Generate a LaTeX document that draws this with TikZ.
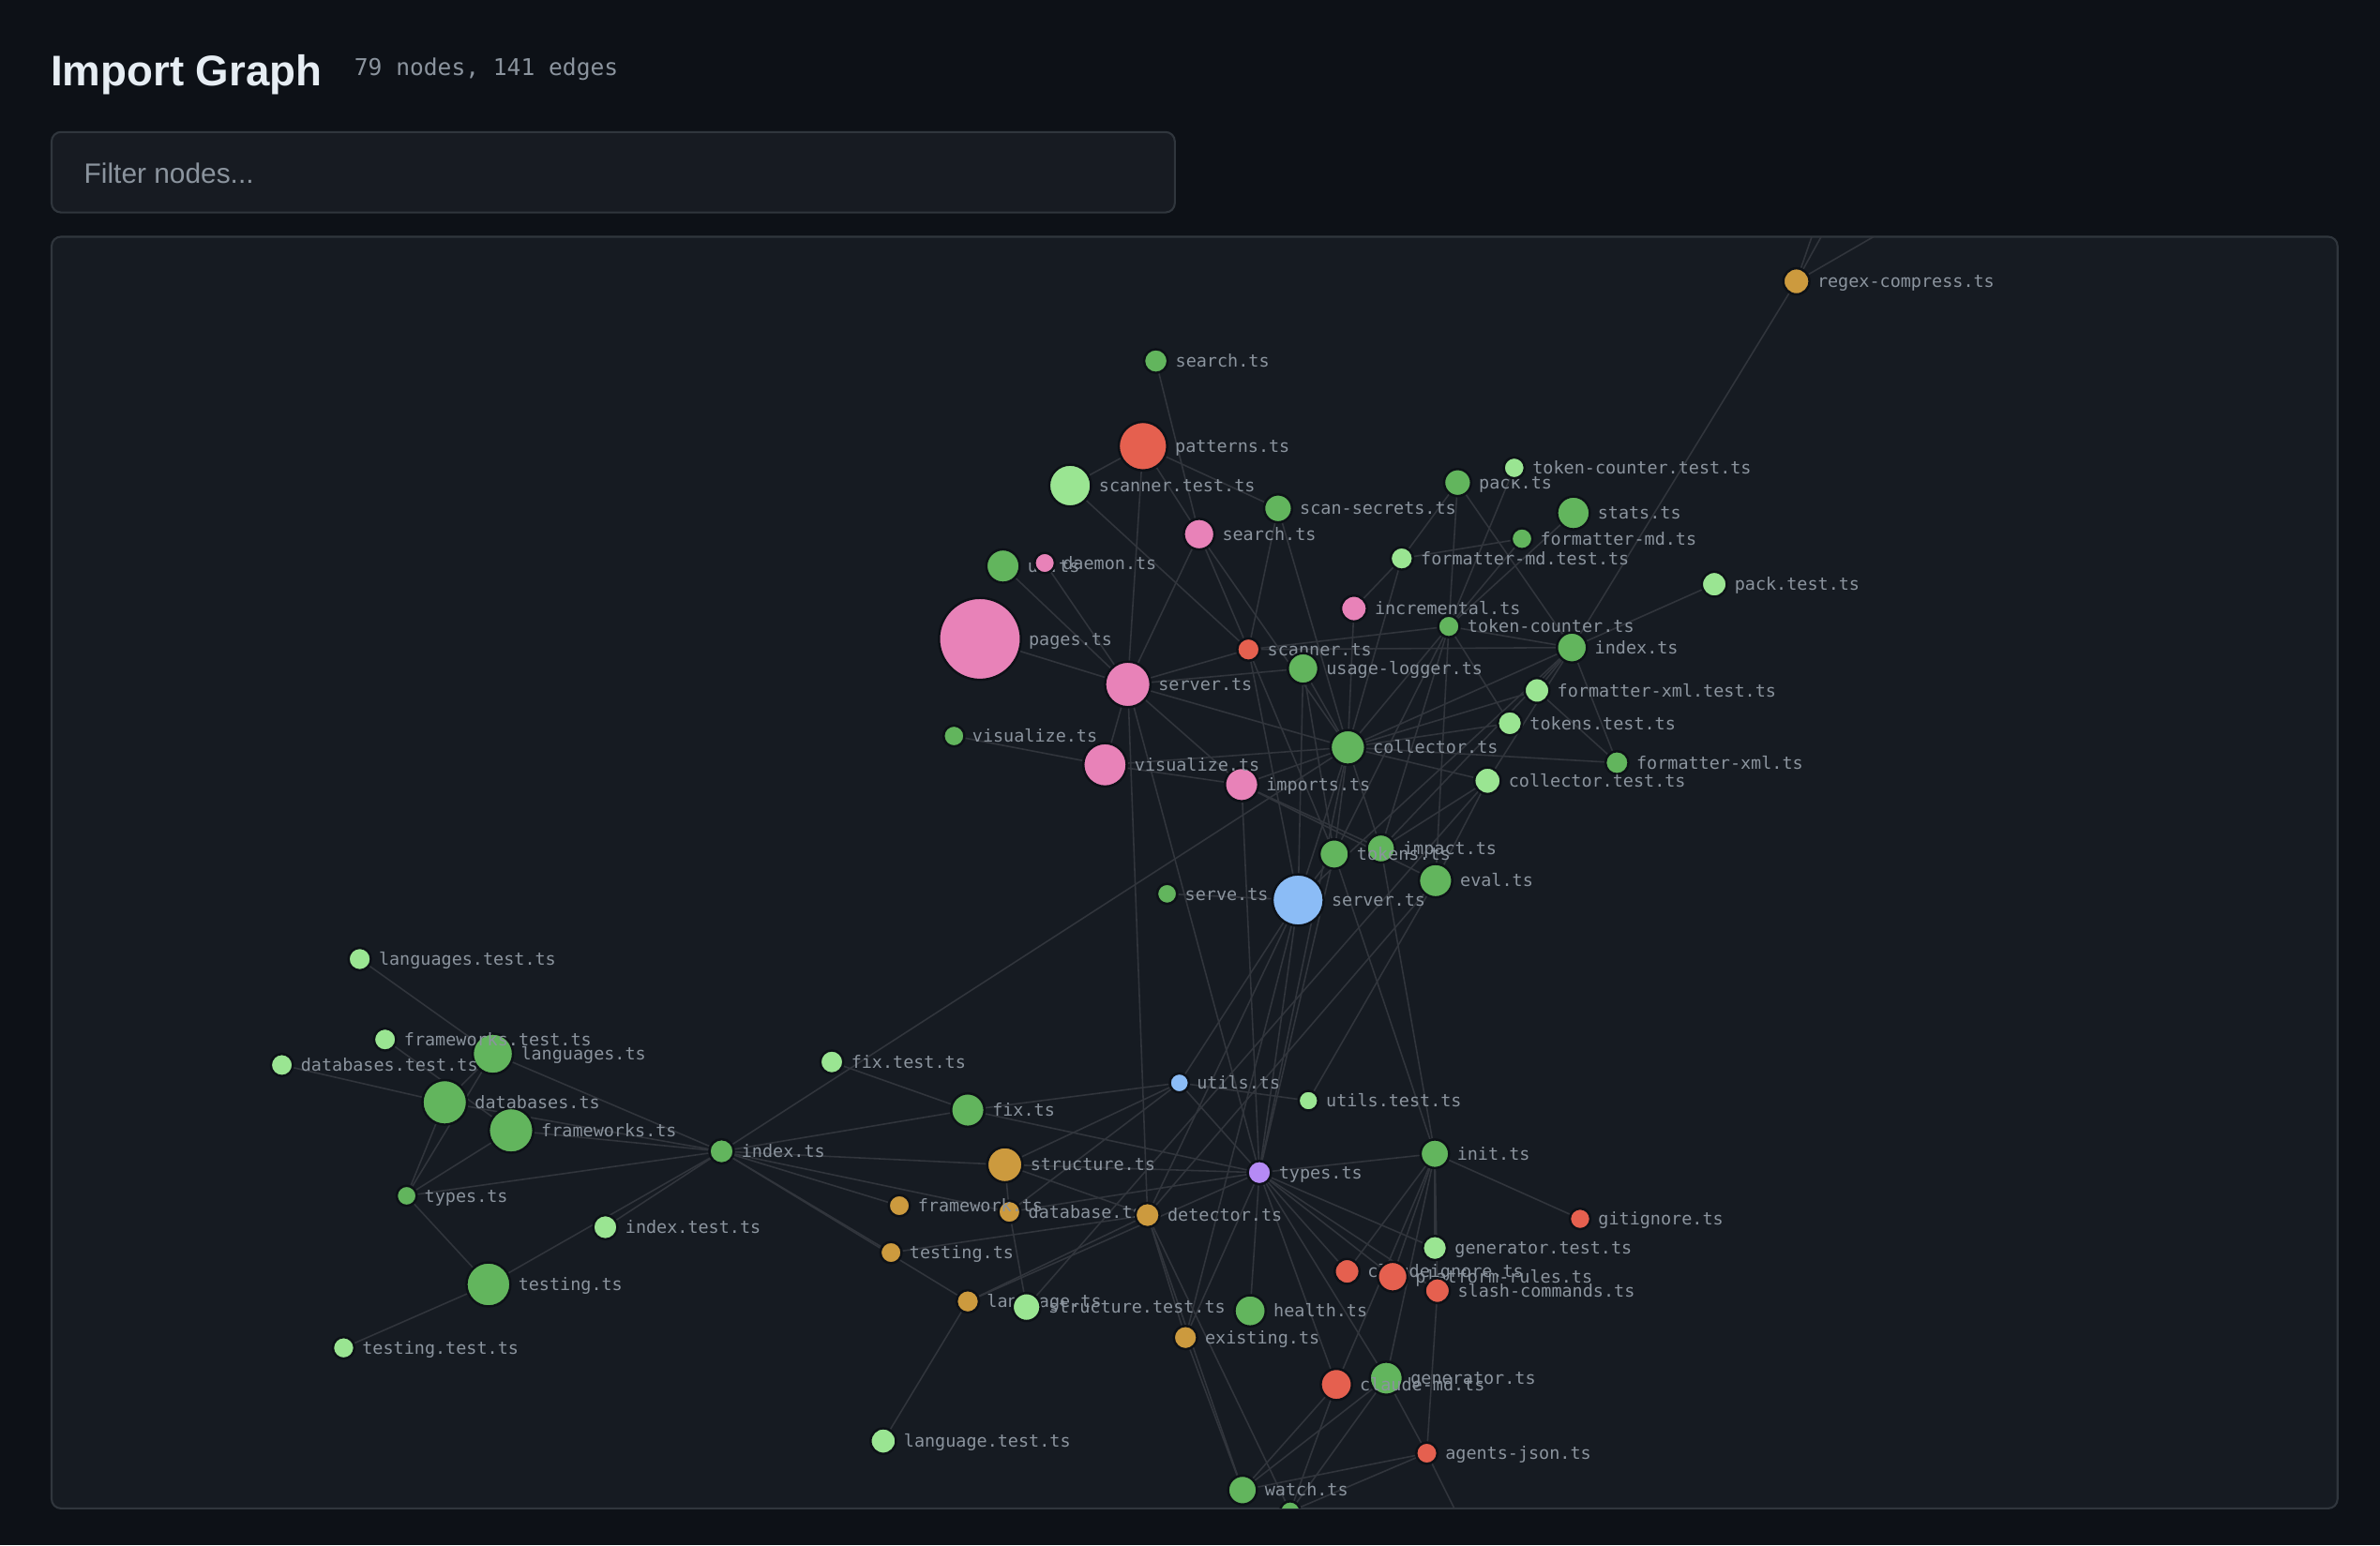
\documentclass[tikz,border=0pt]{standalone}
\usepackage{fontspec}
\setmainfont{Liberation Sans}
\newfontfamily\monofont{DejaVu Sans Mono}
\definecolor{pagebg}{HTML}{0D1117}
\definecolor{panelbg}{HTML}{161B22}
\definecolor{filterbg}{HTML}{171B22}
\definecolor{panelline}{HTML}{30363D}
\definecolor{edgecol}{HTML}{31353C}
\definecolor{labelcol}{HTML}{8B949E}
\definecolor{titlecol}{HTML}{E6EDF3}
\definecolor{cgreen}{HTML}{62B55D}
\definecolor{clight}{HTML}{9AE592}
\definecolor{cpink}{HTML}{E882B8}
\definecolor{cred}{HTML}{E5604F}
\definecolor{corange}{HTML}{CC9A3E}
\definecolor{cblue}{HTML}{8BBCF6}
\definecolor{cpurple}{HTML}{B58AF5}
\pgfdeclarelayer{bglayer}
\pgfdeclarelayer{edgelayer}
\pgfsetlayers{bglayer,edgelayer,main}
\begin{document}
\begin{tikzpicture}[x=0.016186cm,y=-0.016186cm,
  main node/.style={circle,draw=pagebg,line width=0.7pt,inner sep=0pt,minimum size=#1*0.032372cm},
  green node/.style={main node=#1,fill=cgreen},
  light node/.style={main node=#1,fill=clight},
  pink node/.style={main node=#1,fill=cpink},
  red node/.style={main node=#1,fill=cred},
  orange node/.style={main node=#1,fill=corange},
  blue node/.style={main node=#1,fill=cblue},
  purple node/.style={main node=#1,fill=cpurple},
  label distance=0.065cm,
  every label/.style={font=\monofont\fontsize{5.25}{6.3}\selectfont,text=labelcol,inner sep=0pt,text height=1.6ex,text depth=0.4ex,yshift=0.045cm},
  link/.style={every edge/.style={draw=edgecol,line width=0.45pt}}]

  \useasboundingbox (0,0) rectangle (1568,1018.2);
  \begin{pgfonlayer}{bglayer}
    \fill[pagebg] (0,0) rectangle (1568,1018.2);
    \draw[panelline,fill=panelbg,line width=0.6pt,rounded corners=0.1cm] (34,156) rectangle (1540,994);
  \end{pgfonlayer}

  \node[anchor=base west,inner sep=0pt,text=titlecol,font=\bfseries\fontsize{13}{15}\selectfont] (title) at (33,56.3) {Import Graph};
  \node[anchor=base west,inner sep=0pt,text=labelcol,font=\monofont\fontsize{7}{8}\selectfont] (stats line) at (233,49.5) {79 nodes, 141 edges};
  \draw[panelline,fill=filterbg,line width=0.6pt,rounded corners=0.1cm] (34,87) rectangle (774,140);
  \node[anchor=base west,inner sep=0pt,text=labelcol,font=\fontsize{8.5}{10}\selectfont] (filter) at (55,120.5) {Filter nodes...};

  \coordinate (offa) at (1226,62);
  \coordinate (offb) at (1252,62);
  \coordinate (offc) at (1397,62);
  \coordinate (offd) at (981,1040);

  \begin{scope}
  \clip[rounded corners=0.1cm] (34,156) rectangle (1540,994);
  \node[orange node=8.6,label=east:regex-compress.ts] (rc) at (1183.5,185.4) {};
  \node[green node=7.8,label=east:search.ts] (srchg) at (761.5,237.9) {};
  \node[red node=16,label=east:patterns.ts] (patt) at (753,294) {};
  \node[light node=13.8,label=east:scanner.test.ts] (sctest) at (705,320) {};
  \node[green node=9.2,label=east:scan-secrets.ts] (scsec) at (842,335) {};
  \node[pink node=10.1,label=east:search.ts] (srchp) at (790,352) {};
  \node[green node=8.9,label=east:pack.ts] (pack) at (960.3,318) {};
  \node[light node=6.9,label=east:token-counter.test.ts] (tctest) at (997.6,308.3) {};
  \node[green node=10.8,label=east:stats.ts] (stats) at (1036.6,338) {};
  \node[green node=6.9,label=east:formatter-md.ts] (fmd) at (1002.7,355) {};
  \node[light node=7.4,label=east:formatter-md.test.ts] (fmdtest) at (923.5,368) {};
  \node[light node=8.2,label=east:pack.test.ts] (packtest) at (1129.4,385) {};
  \node[green node=11,label=east:ui.ts] (ui) at (660.8,373) {};
  \node[pink node=6.7,label=east:daemon.ts] (daemon) at (688.3,371) {};
  \node[pink node=27,label=east:pages.ts] (pages) at (645.6,421) {};
  \node[pink node=8.5,label=east:incremental.ts] (incr) at (892,401) {};
  \node[green node=7.1,label=east:token-counter.ts] (tc) at (954.5,412.8) {};
  \node[green node=9.9,label=east:index.ts] (idxr) at (1035.6,426.7) {};
  \node[red node=7.4,label=east:scanner.ts] (scan) at (822.5,428) {};
  \node[green node=10.1,label=east:usage-logger.ts] (usage) at (858.5,440.5) {};
  \node[pink node=15,label=east:server.ts] (servp) at (743,451) {};
  \node[light node=8.2,label=east:formatter-xml.test.ts] (fxtest) at (1012.6,455) {};
  \node[light node=8,label=east:tokens.test.ts] (tktest) at (994.7,476.6) {};
  \node[green node=6.9,label=east:visualize.ts] (visg) at (628.5,485) {};
  \node[green node=11.4,label=east:collector.ts] (coll) at (888,492.5) {};
  \node[green node=7.6,label=east:formatter-xml.ts] (fx) at (1065.3,502.6) {};
  \node[pink node=11,label=east:imports.ts] (imp) at (818,517) {};
  \node[pink node=14.3,label=east:visualize.ts] (visp) at (728,504) {};
  \node[light node=8.7,label=east:collector.test.ts] (colltest) at (980,514.5) {};
  \node[green node=9.3,label=east:impact.ts] (impact) at (909.8,559.1) {};
  \node[green node=9.7,label=east:tokens.ts] (tokens) at (879,562.8) {};
  \node[green node=11,label=east:eval.ts] (eval) at (945.8,580.3) {};
  \node[green node=6.6,label=east:serve.ts] (serve) at (768.9,589) {};
  \node[blue node=16.9,label=east:server.ts] (servb) at (855.2,593.1) {};

  \node[light node=7.4,label=east:languages.test.ts] (langtest) at (237,632) {};
  \node[green node=13.3,label=east:languages.ts] (lang) at (324.7,694.4) {};
  \node[light node=7.3,label=east:frameworks.test.ts] (fwtest) at (253.7,685) {};
  \node[light node=7.3,label=east:databases.test.ts] (dbtest) at (185.7,701.8) {};
  \node[green node=14.7,label=east:frameworks.ts] (fw) at (336.7,744.9) {};
  \node[green node=14.7,label=east:databases.ts] (db) at (293,726.4) {};
  \node[green node=6.6,label=east:types.ts] (typesg) at (267.9,788) {};
  \node[green node=8,label=east:index.ts] (idxl) at (475.4,758.7) {};
  \node[light node=8,label=east:index.test.ts] (idxtest) at (398.8,808.7) {};
  \node[green node=14.5,label=east:testing.ts] (testg) at (321.8,846.4) {};
  \node[light node=7.1,label=east:testing.test.ts] (testtest) at (226.4,888.2) {};

  \node[light node=7.6,label=east:fix.test.ts] (fixtest) at (548,699.8) {};
  \node[green node=11,label=east:fix.ts] (fix) at (637.6,731.5) {};
  \node[blue node=6.3,label=east:utils.ts] (utilsb) at (777,713.6) {};
  \node[light node=6.5,label=east:utils.test.ts] (utilstest) at (862,725.3) {};
  \node[orange node=11.6,label=east:structure.ts] (struct) at (662,767.5) {};
  \node[orange node=7.3,label=east:database.ts] (database) at (665,798.6) {};
  \node[orange node=7,label=east:framework.ts] (framework) at (592.5,794.5) {};
  \node[orange node=8,label=east:detector.ts] (detector) at (756,800.7) {};
  \node[purple node=7.7,label=east:types.ts] (typesp) at (829.7,772.7) {};
  \node[green node=9.4,label=east:init.ts] (init) at (945.3,760.3) {};
  \node[red node=6.8,label=east:gitignore.ts] (gitig) at (1041,803.2) {};
  \node[orange node=7,label=east:testing.ts] (testo) at (587,825.4) {};
  \node[light node=8,label=east:generator.test.ts] (gentest) at (945.3,822.4) {};
  \node[red node=8.2,label=east:claudeignore.ts] (cignore) at (887.5,837.8) {};
  \node[red node=9.8,label=east:platform-rules.ts] (platform) at (917.5,841.3) {};
  \node[red node=8.2,label=east:slash-commands.ts] (slash) at (947,850.5) {};
  \node[orange node=7.4,label=east:language.ts] (language) at (637.6,857.6) {};
  \node[light node=9.2,label=east:structure.test.ts] (structtest) at (676.3,861.3) {};
  \node[green node=10.3,label=east:health.ts] (health) at (823.6,863.8) {};
  \node[orange node=7.7,label=east:existing.ts] (existing) at (781,881.4) {};
  \node[green node=10.9,label=east:generator.ts] (gen) at (913.3,908.2) {};
  \node[red node=10.3,label=east:claude-md.ts] (claudemd) at (880.4,912.3) {};
  \node[red node=7,label=east:agents-json.ts] (agents) at (940,957.6) {};
  \node[light node=8.4,label=east:language.test.ts] (langtest2) at (581.9,949.6) {};
  \node[green node=9.5,label=east:watch.ts] (watch) at (818.6,981.9) {};
  \node[green node=6.7] (cutoff) at (850,996) {};
  \end{scope}

  \begin{pgfonlayer}{edgelayer}
  \begin{scope}
  \clip[rounded corners=0.1cm] (34,156) rectangle (1540,994);
  \path[link]
   (srchg) edge (srchp) (patt) edge (sctest) (patt) edge (scsec) (patt) edge (srchp)
   (patt) edge (servp) (sctest) edge (scan) (srchp) edge (servp) (srchp) edge (scan)
   (srchp) edge (coll) (scsec) edge (coll) (scsec) edge (scan) (pack) edge (fmdtest)
   (fmdtest) edge (incr) (pack) edge (tc) (pack) edge (idxr) (tctest) edge (tc)
   (stats) edge (tc) (fmd) edge (fmdtest) (fmd) edge (tc) (rc) edge (idxr)
   (rc) edge (offa) (rc) edge (offb) (rc) edge (offc) (packtest) edge (idxr)
   (idxr) edge (tc) (idxr) edge (scan) (tc) edge (scan) (idxr) edge (coll)
   (idxr) edge (fxtest) (idxr) edge (fx) (fxtest) edge (fx) (fxtest) edge (coll)
   (idxr) edge (colltest) (colltest) edge (impact) (tktest) edge (tc) (tktest) edge (coll)
   (coll) edge (fx) (coll) edge (colltest) (coll) edge (servp) (coll) edge (visp)
   (coll) edge (imp) (coll) edge (tc) (incr) edge (coll) (usage) edge (coll)
   (fmdtest) edge (coll) (usage) edge (servp) (scan) edge (servp) (pages) edge (servp)
   (ui) edge (servp) (daemon) edge (servp) (visp) edge (servp) (servp) edge (imp)
   (visg) edge (visp) (visp) edge (imp) (servp) edge (detector) (servp) edge (typesp)
   (imp) edge (impact) (imp) edge (eval) (idxl) edge (coll) (idxr) edge (servb)
   (servb) edge (coll) (servb) edge (tokens) (servb) edge (usage) (scan) edge (servb)
   (servb) edge (utilsb) (servb) edge (serve) (colltest) edge (eval) (eval) edge (utilstest)
   (colltest) edge (structtest) (scan) edge (tokens) (usage) edge (tokens) (coll) edge (tokens)
   (coll) edge (impact) (tc) edge (tokens) (tc) edge (impact) (tc) edge (eval)
   (idxr) edge (impact) (servb) edge (typesp) (servb) edge (existing) (detector) edge (servb)
   (detector) edge (eval) (imp) edge (typesp) (tokens) edge (typesp) (coll) edge (typesp)
   (init) edge (impact) (init) edge (tokens);
  \path[link]
   (langtest) edge (lang) (lang) edge (idxl) (fwtest) edge (fw) (dbtest) edge (db)
   (db) edge (lang) (typesg) edge (db) (typesg) edge (lang) (typesg) edge (fw)
   (typesg) edge (idxl) (typesg) edge (testg) (testg) edge (testtest) (testg) edge (idxl)
   (idxtest) edge (idxl) (fw) edge (idxl) (db) edge (idxl);
  \path[link]
   (fixtest) edge (fix) (idxl) edge (fix) (idxl) edge (struct) (idxl) edge (framework)
   (idxl) edge (database) (idxl) edge (testo) (idxl) edge (language) (fix) edge (typesp)
   (fix) edge (utilsb) (struct) edge (utilsb) (struct) edge (typesp) (struct) edge (detector)
   (struct) edge (database) (database) edge (utilsb) (database) edge (structtest) (database) edge (typesp)
   (testo) edge (detector) (language) edge (detector) (language) edge (typesp) (language) edge (langtest2)
   (detector) edge (existing) (detector) edge (watch) (detector) edge (cutoff) (existing) edge (typesp)
   (existing) edge (watch) (health) edge (typesp) (typesp) edge (utilsb) (typesp) edge (init)
   (typesp) edge (gentest) (typesp) edge (cignore) (typesp) edge (platform) (typesp) edge (gen)
   (typesp) edge (claudemd) (typesp) edge (slash) (utilstest) edge (utilsb) (init) edge (gitig)
   (init) edge (gentest) (init) edge (slash) (init) edge (cignore) (init) edge (platform)
   (init) edge (gen) (init) edge (claudemd) (gen) edge (agents) (gen) edge (watch)
   (gen) edge (cutoff) (claudemd) edge (watch) (claudemd) edge (cutoff) (agents) edge (watch)
   (agents) edge (cutoff) (agents) edge (offd) (slash) edge (agents);
  \end{scope}
  \end{pgfonlayer}
\end{tikzpicture}
\end{document}
